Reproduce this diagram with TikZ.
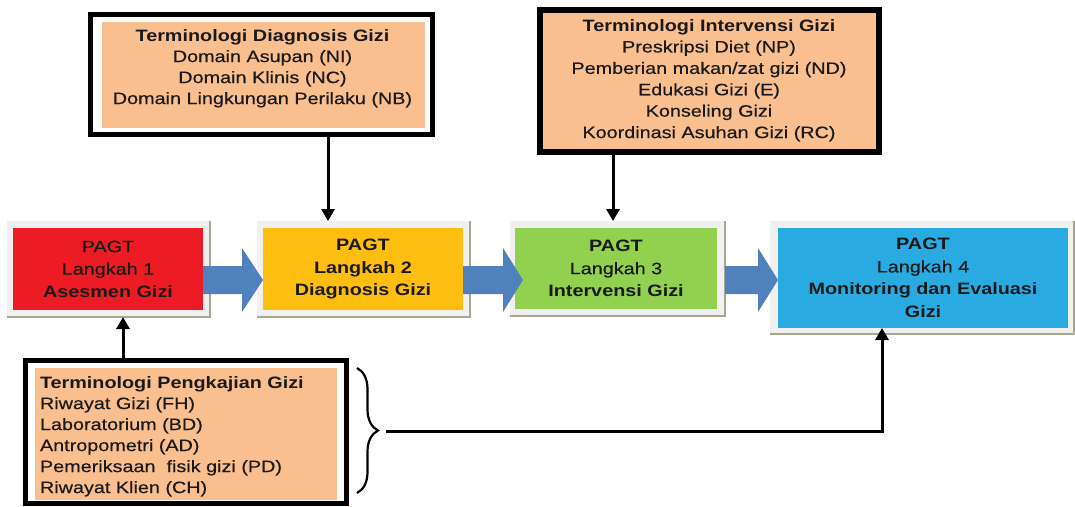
\documentclass[tikz,border=0pt]{standalone}
\usepackage{fontspec}
\setmainfont{Liberation Sans}[FakeStretch=1.2, UprightFeatures={FakeBold=0.4}]
\usetikzlibrary{arrows.meta,decorations.pathreplacing,calc}
\definecolor{boxorange}{HTML}{FABF8F}
\definecolor{sred}{HTML}{ED1C24}
\definecolor{syellow}{HTML}{FDBE10}
\definecolor{sgreen}{HTML}{92D050}
\definecolor{sblue}{HTML}{29ABE2}
\definecolor{barrowc}{HTML}{4F81BD}
\definecolor{shadowc}{HTML}{A8A890}
\definecolor{txt}{HTML}{1A1A1A}
\newcommand\stepfnt{\fontsize{16.5}{22.5}\selectfont}
\newcommand\boxfnt{\fontsize{16.5}{21}\selectfont}
\newcommand\boxfntb{\fontsize{16.5}{21.4}\selectfont}
\tikzset{
  stepframe/.style={fill=black!6, inner sep=0pt, outer sep=0pt},
  stepbox/.style={inner sep=0pt, outer sep=0pt, align=center, font=\stepfnt, text=txt},
  shadowline/.style={draw=shadowc, line width=1.5pt},
  boxtext/.style={inner sep=0pt, outer sep=0pt, font=\boxfnt, text=txt},
  termframe/.style={draw=black, inner sep=0pt},
  termfill/.style={fill=boxorange, inner sep=0pt, outer sep=0pt},
  barrow/.style={fill=barrowc},
  conn/.style={draw=black, line width=3pt, -{Triangle[length=12pt,width=13pt]}},
  bracestyle/.style={draw=black, line width=2.2pt, decorate, decoration={brace, amplitude=21pt, aspect=0.5}}
}
\begin{document}
\begin{tikzpicture}[x=1pt,y=-1pt]
\useasboundingbox (0,0) rectangle (1075,506);
\fill[white] (0,0) rectangle (1075,506);

% step frames
\node[stepframe, minimum width=203pt, minimum height=96pt] (s1f) at (108.5,269) {};
\node[stepframe, minimum width=213pt, minimum height=96pt] (s2f) at (363.5,269) {};
\node[stepframe, minimum width=215pt, minimum height=95pt] (s3f) at (617.5,268.5) {};
\node[stepframe, minimum width=304pt, minimum height=113pt] (s4f) at (922,277.5) {};
\foreach \f in {s1f,s2f,s3f,s4f}{
  \draw[shadowline] (\f.north east) -- (\f.south east) -- (\f.south west);
}

% steps
\node[stepbox, fill=sred, minimum width=190pt, minimum height=82pt] (s1) at (108,269)
  {PAGT\\Langkah 1\\\textbf{Asesmen Gizi}};
\node[stepbox, fill=syellow, minimum width=200pt, minimum height=82pt] (s2) at (363,269)
  {\textbf{PAGT}\\\textbf{Langkah 2}\\\textbf{Diagnosis Gizi}};
\node[stepbox, fill=sgreen, minimum width=202pt, minimum height=81pt] (s3) at (616,268.5)
  {\textbf{PAGT}\\Langkah 3\\\textbf{Intervensi Gizi}};
\node[stepbox, fill=sblue, minimum width=290pt, minimum height=100pt] (s4) at (923,278)
  {\textbf{PAGT}\\Langkah 4\\\textbf{Monitoring dan Evaluasi}\\\textbf{Gizi}};

% block arrows
\fill[barrow] (s1.east |- 0,266) -- (242,266) -- (242,248) -- (s2.west |- 0,280)
  -- (242,312) -- (242,294) -- (s1.east |- 0,294) -- cycle;
\fill[barrow] (s2.east |- 0,266) -- (503,266) -- (503,248) -- (523,280)
  -- (503,312) -- (503,294) -- (s2.east |- 0,294) -- cycle;
\fill[barrow] (s3f.east |- 0,266) -- (758,266) -- (758,248) -- (s4.west |- 0,280)
  -- (758,312) -- (758,294) -- (s3f.east |- 0,294) -- cycle;

% top-left terminology box
\node[termframe, line width=5pt, fill=white, minimum width=342pt, minimum height=120pt] (tlf) at (261.5,74.5) {};
\node[termfill, minimum width=323pt, minimum height=106pt] (tlb) at (263.5,75) {};
\node[boxtext, align=center] (tlt) at (262.5,68.3)
  {\textbf{Terminologi Diagnosis Gizi}\\Domain Asupan (NI)\\Domain Klinis (NC)\\Domain Lingkungan Perilaku (NB)};

% top-right terminology box
\node[termframe, line width=6pt, fill=boxorange, minimum width=339pt, minimum height=142pt] (trf) at (709.5,81) {};
\node[boxtext, align=center, font=\boxfntb] (trt) at (709,80.3)
  {\textbf{Terminologi Intervensi Gizi}\\Preskripsi Diet (NP)\\Pemberian makan/zat gizi (ND)\\Edukasi Gizi (E)\\Konseling Gizi\\Koordinasi Asuhan Gizi (RC)};

% bottom-left terminology box
\node[termframe, line width=5pt, fill=white, minimum width=321pt, minimum height=143pt] (blf) at (186,432) {};
\node[termfill, minimum width=302pt, minimum height=132pt] (blb) at (186,434) {};
\node[boxtext, align=left, anchor=west] (blt) at (40,436.3)
  {\textbf{Terminologi Pengkajian Gizi}\\Riwayat Gizi (FH)\\Laboratorium (BD)\\Antropometri (AD)\\Pemeriksaan~ fisik gizi (PD)\\Riwayat Klien (CH)};

% brace
\coordinate (bra) at (357,368);
\coordinate (brb) at (357,493);
\draw[bracestyle] (bra) -- (brb);
\coordinate (bt) at (386,431);

% connectors
\coordinate (xa) at (328,0);
\coordinate (xb) at (613,0);
\coordinate (xc) at (123,0);
\coordinate (xd) at (882,0);
\draw[conn] (tlf.south -| xa) -- (s2f.north -| xa);
\draw[conn] (trf.south -| xb) -- (s3f.north -| xb);
\draw[conn] (blf.north -| xc) -- (s1f.south -| xc);
\draw[conn] (bt) -| (s4.south -| xd);
\end{tikzpicture}
\end{document}
